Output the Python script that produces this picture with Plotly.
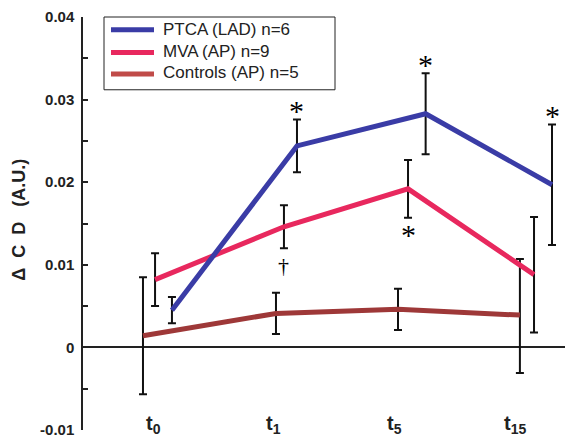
import plotly.graph_objects as go

# ---- data ----
time_labels = ["t<sub>0</sub>", "t<sub>1</sub>", "t<sub>5</sub>", "t<sub>15</sub>"]
time_pos = [0, 1, 2, 3]

series_names = ["PTCA (LAD) n=6", "MVA (AP) n=9", "Controls (AP) n=5"]

ptca_x = [0.157, 1.193, 2.259, 3.306]
ptca_y = [0.0045, 0.0244, 0.0283, 0.0197]
ptca_err_up = [0.0016, 0.0032, 0.0049, 0.0073]
ptca_err_dn = [0.0016, 0.0032, 0.0049, 0.0073]

mva_x = [0.017, 1.085, 2.113, 3.157]
mva_y = [0.0082, 0.0146, 0.0192, 0.0088]
mva_err_up = [0.0032, 0.0026, 0.0035, 0.0070]
mva_err_dn = [0.0032, 0.0026, 0.0035, 0.0070]

ctrl_x = [-0.083, 1.019, 2.030, 3.040]
ctrl_y = [0.0014, 0.0041, 0.0046, 0.0039]
ctrl_err_up = [0.0071, 0.0025, 0.0025, 0.0068]
ctrl_err_dn = [0.0071, 0.0025, 0.0025, 0.0070]

ytick_vals = [-0.01, 0, 0.01, 0.02, 0.03, 0.04]
ytick_text = ["-0.01", "0", "0.01", "0.02", "0.03", "0.04"]

# significance marks: (series index, point index, symbol, side)
sig_marks = [(0, 1, "*", "up"), (0, 2, "*", "up"), (0, 3, "*", "up"),
             (1, 2, "*", "down"), (1, 1, "†", "down")]

# ---- styles ----
colors = ["#3a3ca6", "#e8285e", "#9e3838"]
legend_colors = ["#3a3ca6", "#e8285e", "#c04b48"]

xs = [ptca_x, mva_x, ctrl_x]
ys = [ptca_y, mva_y, ctrl_y]
ups = [ptca_err_up, mva_err_up, ctrl_err_up]
dns = [ptca_err_dn, mva_err_dn, ctrl_err_dn]

fig = go.Figure()
for i in [2, 1, 0]:
    fig.add_trace(go.Scatter(
        x=xs[i], y=ys[i], mode="lines", name=series_names[i],
        line=dict(color=colors[i], width=5),
        error_y=dict(type="data", array=ups[i], arrayminus=dns[i],
                     color="#111111", thickness=2, width=4),
        showlegend=False,
    ))

annotations = []
# x labels
for p, lab in zip(time_pos, time_labels):
    annotations.append(dict(x=p, y=-0.0093, xref="x", yref="y", text=lab,
                            showarrow=False, xanchor="center", yanchor="middle",
                            font=dict(size=20, color="#222222", family="Liberation Sans", weight="bold")))
# significance marks
for si, pi, sym, side in sig_marks:
    if sym == "*":
        if side == "up":
            yv = ys[si][pi] + ups[si][pi]
            shift = 9
        else:
            yv = ys[si][pi] - dns[si][pi]
            shift = -17
        fsize = 30
    else:
        yv = ys[si][pi] - dns[si][pi]
        shift = -17
        fsize = 22
    annotations.append(dict(x=xs[si][pi], y=yv, xref="x", yref="y", text=sym,
                            showarrow=False, xanchor="center", yanchor="middle",
                            yshift=shift,
                            font=dict(size=fsize, color="#000000", family="Liberation Serif")))
# y title
annotations.append(dict(x=-0.13, y=0.51, xref="paper", yref="paper",
                        text="\u0394  C  D   (A.U.)", textangle=-90, showarrow=False,
                        xanchor="center", yanchor="middle",
                        font=dict(size=18, color="#222222", family="Liberation Sans", weight="bold")))

# custom legend (pixel helpers relative to the plot area)
W, H, L = 490.0, 420.0, 83.0
def px_x(v):
    return (v - L) / W
def px_y(v):
    return (430.0 - v) / H

shapes = [dict(type="rect", xref="paper", yref="paper",
               x0=px_x(104), x1=px_x(335), y0=px_y(84), y1=px_y(10),
               line=dict(color="#222222", width=1), fillcolor="white", layer="above")]
line_rows = [23, 46, 68]
text_rows = [23, 45, 66]
for i in range(3):
    shapes.append(dict(type="line", xref="paper", yref="paper",
                       x0=px_x(111), x1=px_x(154), y0=px_y(line_rows[i]), y1=px_y(line_rows[i]),
                       line=dict(color=legend_colors[i], width=5), layer="above"))
    annotations.append(dict(x=px_x(161), y=px_y(text_rows[i]), xref="paper", yref="paper",
                            text=series_names[i].replace("MVA (AP)", "MVA\u2009(AP)"),
                            showarrow=False, xanchor="left", yanchor="middle",
                            font=dict(size=17, color="#222222", family="Liberation Sans")))

# page has an 8px body margin: figure is sized so the plot area lands on the reference
fig.update_layout(
    width=565, height=432,
    margin=dict(l=75, r=0, t=2, b=10),
    plot_bgcolor="white", paper_bgcolor="white",
    font=dict(family="Liberation Sans, Arial", color="#222222"),
    showlegend=False,
    xaxis=dict(range=[-0.58, 3.48], showgrid=False, zeroline=False, showline=False,
               showticklabels=False, ticks=""),
    yaxis=dict(range=[-0.01002, 0.04002], tickvals=ytick_vals, ticktext=ytick_text,
               ticks="inside", ticklen=5, tickwidth=1.5, tickcolor="#222222",
               showline=True, linewidth=1.5, linecolor="#222222",
               zeroline=True, zerolinecolor="#222222", zerolinewidth=1.5,
               showgrid=False, ticklabelstandoff=4, ticklabeloverflow="allow",
               tickfont=dict(size=15, color="#222222", family="Liberation Sans", weight="bold"),
               minor=dict(ticks="inside", dtick=0.005, ticklen=5, tickwidth=1.5,
                          tickcolor="#222222", showgrid=False)),
    shapes=shapes,
    annotations=annotations,
)

fig.write_html("out.html")
